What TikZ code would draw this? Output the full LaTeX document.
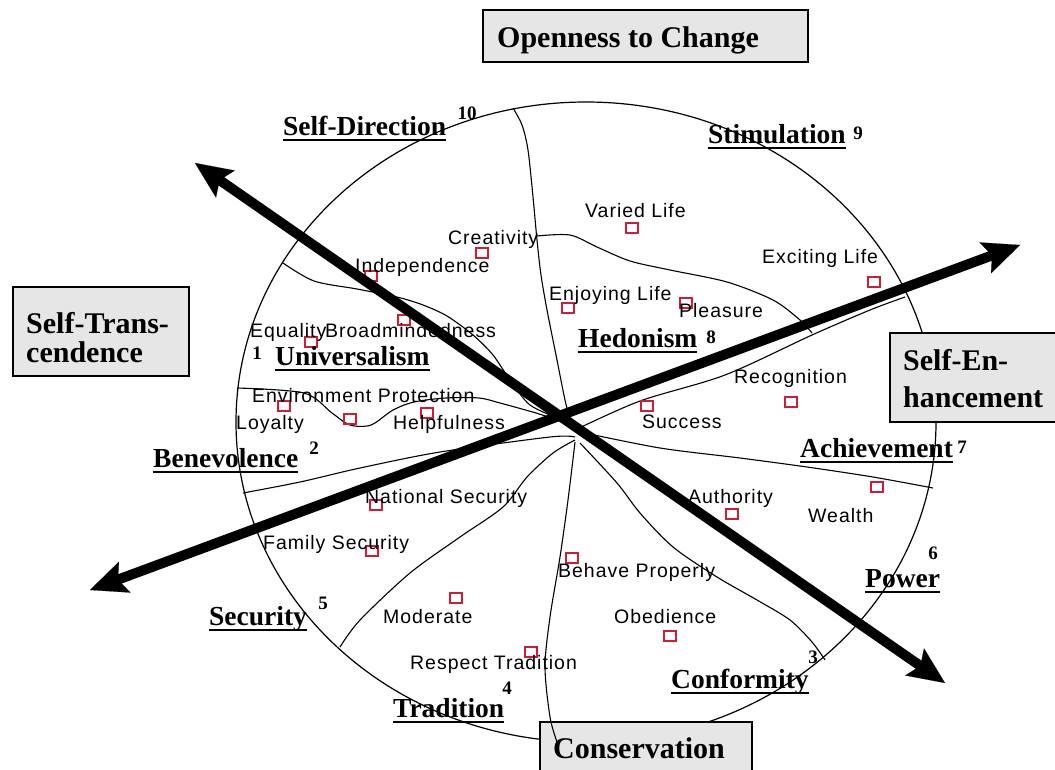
\documentclass[tikz,border=0pt]{standalone}
\usepackage{fontspec}
\setmainfont{Liberation Serif}
\newfontfamily\valfont{Liberation Sans}[LetterSpace=5]
\usetikzlibrary{arrows.meta}
\definecolor{mk}{RGB}{205,30,55}
\definecolor{boxgray}{RGB}{230,230,230}
\newcommand\ulabel[1]{\setbox0=\hbox{#1}\rlap{\rule[-6pt]{\wd0}{2pt}}\box0}
\tikzset{
  vtext/.style={font=\valfont\fontsize{19.5}{22}\selectfont, anchor=base west, inner sep=0pt},
  ltext/.style={font=\fontsize{27.5}{30}\selectfont\bfseries, anchor=base west, inner sep=0pt},
  ntext/.style={font=\fontsize{19}{21}\selectfont\bfseries, inner sep=0pt},
  btext/.style={font=\fontsize{30}{32}\selectfont\bfseries, anchor=base west, inner sep=0pt},
  rbox/.style={draw, line width=2.8pt, fill=boxgray, anchor=north west, inner sep=0pt, outer sep=0pt},
  mksq/.style={draw=mk, line width=1.4pt, minimum width=12pt, minimum height=10pt, inner sep=0pt},
  bline/.style={line width=1.1pt},
  circline/.style={line width=1.2pt},
  bigarr/.style={line width=10pt,
     {Stealth[length=37pt,width=33pt,inset=7pt,line width=0.1pt]}-{Stealth[length=37pt,width=33pt,inset=7pt,line width=0.1pt]}}
}
\begin{document}
\begin{tikzpicture}[x=1pt,y=-1pt]
\useasboundingbox (0,0) rectangle (1055,769);
\clip (0,0) rectangle (1055,769);
\fill[white] (0,0) rectangle (1055,769);

% outer circle
\draw[circline] (586,422) ellipse [x radius=350pt, y radius=320pt];

% sector boundaries
\draw[bline] plot[smooth, tension=0.5] coordinates {(513,108) (522,125) (528,150) (533,197) (537,240) (541,275) (547,310) (556,355) (565,400) (572,428)};
\draw[bline] plot[smooth, tension=0.5] coordinates {(537,236) (570,235) (597,247) (630,261) (670,270) (727,282) (773,300) (800,320) (812,333)};
\draw[bline] plot[smooth, tension=0.5] coordinates {(575,430) (640,401) (725,375) (812,335) (870,310) (905,297)};
\draw[bline] plot[smooth, tension=0.5] coordinates {(580,432) (660,448) (740,458) (807,467) (873,477) (933,488)};
\draw[bline] plot[smooth, tension=0.5] coordinates {(580,443) (617,483) (640,513) (673,547) (717,577) (757,600) (790,620) (812,642) (825,660)};
\draw[bline] plot[smooth, tension=0.5] coordinates {(575,440) (553,453) (527,477) (503,507) (460,537) (410,573) (360,620) (340,647)};
\draw[bline] plot[smooth, tension=0.5] coordinates {(575,437) (550,437) (440,452) (360,468) (300,482) (243,493)};
\draw[bline] plot[smooth, tension=0.5] coordinates {(560,421) (536,413) (500,403) (479,398) (446,398) (414,402) (393,410) (371,425) (350,425) (332,413) (304,393) (237,388)};
\draw[bline] plot[smooth, tension=0.5] coordinates {(283,263) (314,281) (357,289) (397,297) (423,305) (447,316) (473,335) (493,355) (510,380) (530,405) (560,419)};

% value markers
\node[mksq] (mVaried) at (632,228) {};
\node[mksq] (mCreat) at (482,253) {};
\node[mksq] (mIndep) at (371,276) {};
\node[mksq] (mExcit) at (874,282) {};
\node[mksq] (mEnjoy) at (568,308) {};
\node[mksq] (mPleas) at (686,303) {};
\node[mksq] (mBroad) at (404,320) {};
\node[mksq] (mEqual) at (311,342) {};
\node[mksq] (mRecog) at (791,402) {};
\node[mksq] (mLoyal) at (284,406) {};
\node[mksq] (mEnvir) at (350,419) {};
\node[mksq] (mHelp) at (427,413) {};
\node[mksq] (mSucc) at (647,406) {};
\node[mksq] (mNatio) at (376,505) {};
\node[mksq] (mAuth) at (732,514) {};
\node[mksq] (mWealth) at (877,487) {};
\node[mksq] (mFamily) at (372,551) {};
\node[mksq] (mBehave) at (572,558) {};
\node[mksq] (mModer) at (456,598) {};
\node[mksq] (mObed) at (670,636) {};
\node[mksq] (mRespect) at (531,652) {};

% value labels
\node[vtext] (tVaried) at (585,217) {Varied Life};
\node[vtext] (tCreat) at (448,244) {Creativity};
\node[vtext] (tIndep) at (355,272) {Independence};
\node[vtext] (tExcit) at (762,263) {Exciting Life};
\node[vtext] (tEnjoy) at (549,300) {Enjoying Life};
\node[vtext] (tPleas) at (679,317) {Pleasure};
\node[vtext] (tEqual) at (250,337) {Equality};
\node[vtext] (tBroad) at (325,337) {Broadmindedness};
\node[vtext] (tRecog) at (734,383) {Recognition};
\node[vtext] (tEnvir) at (252,402) {Environment Protection};
\node[vtext] (tLoyal) at (236,429) {Loyalty};
\node[vtext] (tHelp) at (393,429) {Helpfulness};
\node[vtext] (tSucc) at (642,428) {Success};
\node[vtext] (tNatio) at (365,503) {National Security};
\node[vtext] (tAuth) at (688,503) {Authority};
\node[vtext] (tWealth) at (808,522) {Wealth};
\node[vtext] (tFamily) at (263,549) {Family Security};
\node[vtext] (tBehave) at (558,577) {Behave Properly};
\node[vtext] (tModer) at (383,623) {Moderate};
\node[vtext] (tObed) at (614,623) {Obedience};
\node[vtext] (tRespect) at (410,669) {Respect Tradition};

% value type labels
\node[ltext] (lSD) at (283,135) {\ulabel{Self-Direction}};
\node[ltext] (lST) at (708,143) {\ulabel{Stimulation}};
\node[ltext] (lHE) at (578,347) {\ulabel{Hedonism}};
\node[ltext] (lUN) at (275,365) {\ulabel{Universalism}};
\node[ltext] (lBE) at (153,467) {\ulabel{Benevolence}};
\node[ltext] (lAC) at (800,457) {\ulabel{Achievement}};
\node[ltext] (lPO) at (865,587) {\ulabel{Power}};
\node[ltext] (lSE) at (209,625) {\ulabel{Security}};
\node[ltext] (lTR) at (393,717) {\ulabel{Tradition}};
\node[ltext] (lCO) at (671,688) {\ulabel{Conformity}};

% numbers
\node[ntext] (n10) at (467,113) {10};
\node[ntext] (n9) at (858,133) {9};
\node[ntext] (n8) at (711,337) {8};
\node[ntext] (n1) at (257,353) {1};
\node[ntext] (n2) at (314,448) {2};
\node[ntext] (n7) at (962,447) {7};
\node[ntext] (n6) at (933,553) {6};
\node[ntext] (n5) at (323,603) {5};
\node[ntext] (n4) at (507,688) {4};
\node[ntext] (n3) at (813,657) {3};

% thick arrows
\coordinate (aUL) at (195,163);
\coordinate (aLR) at (945,683);
\coordinate (aLL) at (90,590);
\coordinate (aUR) at (1020,245);
\draw[bigarr] (aUL) -- (aLR);
\draw[bigarr] (aLL) -- (aUR);

% dimension boxes
\node[rbox, minimum width=325pt, minimum height=52pt] (bOpen) at (483,10) {};
\node[btext] (tOpen) at (497,47) {Openness to Change};
\node[rbox, minimum width=176pt, minimum height=89pt] (bTrans) at (13,287) {};
\node[btext] (tTrans1) at (26,333) {Self-Trans-};
\node[btext] (tTrans2) at (26,362) {cendence};
\node[rbox, minimum width=175pt, minimum height=89pt] (bEnh) at (890,333) {};
\node[btext] (tEnh1) at (903,370) {Self-En-};
\node[btext] (tEnh2) at (903,407) {hancement};
\node[rbox, minimum width=212pt, minimum height=60pt] (bCons) at (540,722) {};
\node[btext] (tCons) at (553,758) {Conservation};

% boundary between tradition and conformity (drawn over the box)
\draw[bline] plot[smooth, tension=0.5] coordinates {(575,442) (568,500) (560,557) (550,617) (545,667) (550,717) (557,742)};
\end{tikzpicture}
\end{document}
